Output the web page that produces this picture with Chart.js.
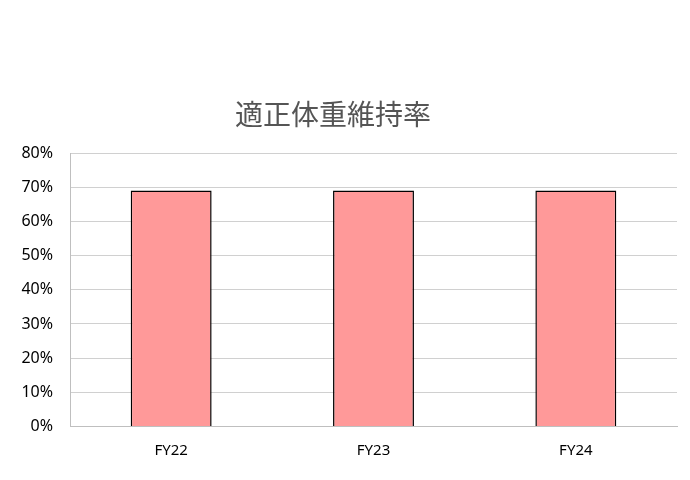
<!DOCTYPE html>
<html>
<head>
<meta charset="utf-8">
<script src="https://cdn.jsdelivr.net/npm/chart.js@4/dist/chart.umd.min.js"></script>
<style>
  html, body { margin: 0; padding: 0; background: #fff; }
  #wrap { width: 690px; height: 480px; position: relative; }
</style>
</head>
<body>
<div id="wrap"><canvas id="chart"></canvas></div>
<script>
// chart data
const chartTitle = '適正体重維持率';
const categories = ['FY22', 'FY23', 'FY24'];
const rates = [69, 69, 69];

// title centred a bit left of the plot, like the original
const titlePlugin = {
  id: 'sheetTitle',
  afterDraw(chart) {
    const ctx = chart.ctx;
    ctx.save();
    ctx.font = '28px "Noto Sans CJK JP", "Noto Sans", sans-serif';
    ctx.fillStyle = '#555555';
    ctx.textAlign = 'center';
    ctx.textBaseline = 'middle';
    ctx.fillText(chartTitle, 333, 114);
    ctx.restore();
  }
};

const ctx = document.getElementById('chart').getContext('2d');
new Chart(ctx, {
  type: 'bar',
  data: {
    labels: categories,
    datasets: [{
      label: chartTitle,
      data: rates,
      backgroundColor: '#FF9999',
      borderColor: '#000000',
      borderWidth: 1.5,
      categoryPercentage: 1.0,
      barPercentage: 0.4
    }]
  },
  options: {
    responsive: true,
    maintainAspectRatio: false,
    animation: false,
    layout: { padding: { left: 0, right: 13, top: 153, bottom: 0 } },
    plugins: {
      legend: { display: false },
      tooltip: { enabled: false }
    },
    scales: {
      x: {
        grid: { display: false, drawTicks: false },
        border: { display: true, color: '#bfbfbf', width: 1 },
        ticks: {
          color: '#000000',
          padding: 15,
          font: { family: '"Noto Sans", sans-serif', size: 15 }
        },
        afterFit(scale) { scale.height = 53.5; }
      },
      y: {
        min: 0,
        max: 80,
        grid: { color: '#d0d0d0', lineWidth: 1, drawTicks: false },
        border: { display: true, color: '#bfbfbf', width: 1 },
        ticks: {
          stepSize: 10,
          color: '#000000',
          padding: 17,
          font: { family: '"Noto Sans", sans-serif', size: 16 },
          callback: v => v + '%'
        },
        afterFit(scale) { scale.width = 70; }
      }
    }
  },
  plugins: [titlePlugin]
});
</script>
</body>
</html>
